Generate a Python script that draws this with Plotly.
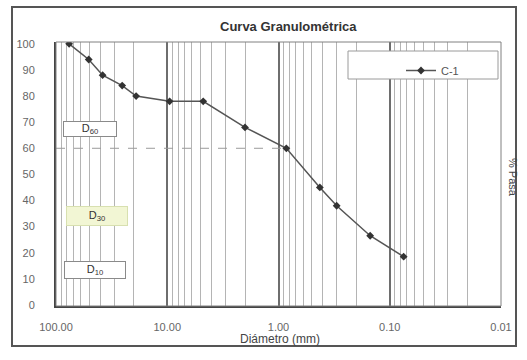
import plotly.graph_objects as go

# Sieve analysis: particle diameter (mm) vs. percent passing
diametro_mm = [76.2, 50.8, 38.1, 25.4, 19.05, 9.525, 4.75, 2.0, 0.85, 0.425, 0.30, 0.15, 0.075]
pct_pasa = [100, 94, 88, 84, 80, 78, 78, 68, 60, 45, 38, 26.5, 18.5]
serie = "C-1"

x_ticks = [100, 10, 1, 0.1, 0.01]
x_tick_text = ["100.00", "10.00", "1.00", "0.10", "0.01"]
y_ticks = list(range(0, 101, 10))

# D60 reference: diameter at which 60 % passes
d60_pct = 60
d60_diam = diametro_mm[pct_pasa.index(d60_pct)]

W, H = 527, 360
L, R, T, B = 56, 501, 42, 306


def px(xp):
    return (xp - L) / (R - L)


def py(yp):
    return (B - yp) / (B - T)


fig = go.Figure()

fig.add_trace(go.Scatter(
    x=[x_ticks[0], d60_diam], y=[d60_pct, d60_pct],
    mode="lines", line=dict(color="#9a9a9a", width=1, dash="dash"),
    showlegend=False, hoverinfo="skip",
))

fig.add_trace(go.Scatter(
    x=diametro_mm, y=pct_pasa, name=serie,
    mode="lines+markers",
    line=dict(color="#555555", width=1.5),
    marker=dict(symbol="diamond", size=6, color="#333333"),
))

font = "Liberation Sans, Arial, sans-serif"

fig.update_layout(
    width=W, height=H,
    margin=dict(l=L, r=W - R, t=T, b=H - B),
    paper_bgcolor="white", plot_bgcolor="white",
    font=dict(family=font, color="#444444", size=11),
    showlegend=True,
    legend=dict(
        x=px(401), y=py(56), xanchor="left", yanchor="top",
        bgcolor="rgba(0,0,0,0)", borderwidth=0,
        font=dict(size=11, color="#555555"),
    ),
    xaxis=dict(
        type="log", range=[2, -2],
        tickvals=x_ticks, ticktext=x_tick_text,
        showgrid=True, gridcolor="#6e6e6e", gridwidth=1.5,
        minor=dict(showgrid=True, gridcolor="#b4b4b4", gridwidth=1, dtick="D1"),
        showline=True, linecolor="#444444", linewidth=2,
        ticks="", ticklabelstandoff=10,
        tickfont=dict(size=11, color="#666666"),
        zeroline=False,
    ),
    yaxis=dict(
        range=[-0.4, 100.7],
        tickvals=y_ticks,
        showgrid=False,
        showline=True, linecolor="#444444", linewidth=2,
        ticks="", ticklabelstandoff=17,
        tickfont=dict(size=11, color="#666666"),
        zeroline=False,
    ),
)

shapes = [
    # plot area border (top / right)
    dict(type="rect", xref="paper", yref="paper", x0=0, x1=1, y0=0, y1=1,
         line=dict(color="#808080", width=1), layer="above"),
    # legend panel
    dict(type="rect", xref="paper", yref="paper",
         x0=px(348), x1=px(498), y0=py(79), y1=py(51),
         line=dict(color="#9a9a9a", width=1), fillcolor="white", layer="above"),
    # outer chart frame
    dict(type="rect", xref="paper", yref="paper",
         x0=px(12), x1=px(516), y0=py(346), y1=py(7),
         line=dict(color="#555555", width=2)),
]
fig.update_layout(shapes=shapes)

ann = [
    dict(text="<b>Curva Granulométrica</b>", x=px(288), y=py(27),
         font=dict(size=13, color="#333333")),
    dict(text="Diámetro (mm)", x=px(280), y=py(339),
         font=dict(size=12, color="#444444")),
    dict(text="% Pasa", x=px(513), y=py(177), textangle=90,
         font=dict(size=11, color="#444444")),
    dict(text="D<sub>60</sub>", x=px(90), y=py(129), width=50, height=12,
         bordercolor="#8a8a8a", borderwidth=1, borderpad=1, bgcolor="white",
         font=dict(size=11, color="#333333")),
    dict(text="D<sub>30</sub>", x=px(97), y=py(216), width=58, height=16,
         bordercolor="#d8e0b0", borderwidth=1, borderpad=1, bgcolor="#f2f6d4",
         font=dict(size=11, color="#333333")),
    dict(text="D<sub>10</sub>", x=px(95), y=py(270), width=58, height=14,
         bordercolor="#8a8a8a", borderwidth=1, borderpad=1, bgcolor="white",
         font=dict(size=11, color="#333333")),
]
for a in ann:
    a.update(xref="paper", yref="paper", showarrow=False,
             xanchor="center", yanchor="middle")
fig.update_layout(annotations=ann)

fig.write_html("out.html")
